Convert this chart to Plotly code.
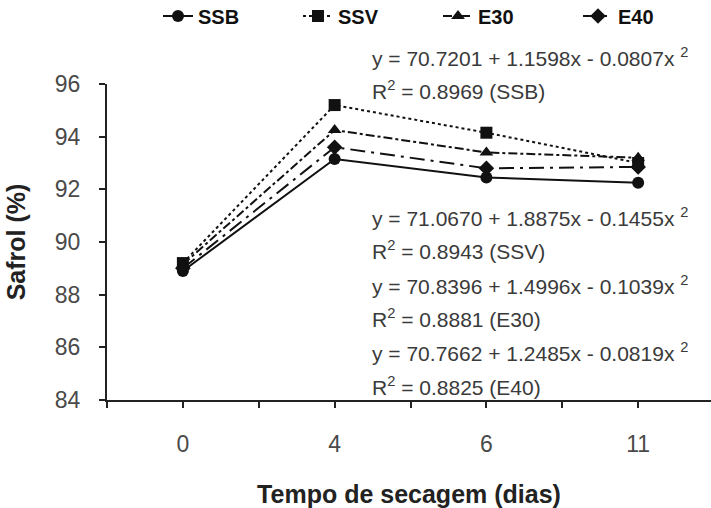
import plotly.graph_objects as go

# Drying time (days) shown as evenly spaced categories
dias = ["0", "4", "6", "11"]
pos = [0, 1, 2, 3]

ssb = [88.9, 93.15, 92.45, 92.25]
ssv = [89.2, 95.2, 94.15, 93.0]
e30 = [89.15, 94.25, 93.4, 93.2]
e40 = [89.0, 93.6, 92.8, 92.85]

series = [
    ("SSB", ssb, "solid", "circle"),
    ("SSV", ssv, "dot", "square"),
    ("E30", e30, "dashdot", "triangle-up"),
    ("E40", e40, "longdashdot", "diamond"),
]

equacoes = [
    ("y = 70.7201 + 1.1598x - 0.0807x <sup>2</sup>", 57),
    ("R<sup>2</sup> = 0.8969 (SSB)", 90),
    ("y = 71.0670 + 1.8875x - 0.1455x <sup>2</sup>", 217),
    ("R<sup>2</sup> = 0.8943 (SSV)", 250),
    ("y = 70.8396 + 1.4996x - 0.1039x <sup>2</sup>", 285),
    ("R<sup>2</sup> = 0.8881 (E30)", 318),
    ("y = 70.7662 + 1.2485x - 0.0819x <sup>2</sup>", 352),
    ("R<sup>2</sup> = 0.8825 (E40)", 386),
]

FONT = "Liberation Sans, Arial"
L, R, T, B = 107, 711, 84, 400

fig = go.Figure()
for nome, vals, dash, simb in series:
    fig.add_trace(go.Scatter(
        x=pos, y=vals, name=nome, mode="lines+markers",
        line=dict(color="#111111", width=2, dash=dash),
        marker=dict(symbol=simb, size=12, color="#111111"),
    ))

for texto, ypix in equacoes:
    fig.add_annotation(
        text=texto, xref="paper", yref="paper",
        x=(370 - L) / (R - L), y=1 - (ypix - T) / (B - T),
        xanchor="left", yanchor="middle", showarrow=False,
        font=dict(family=FONT, size=21, color="#3a3a3a"),
    )

fig.update_layout(
    width=711, height=508,
    margin=dict(l=L, r=711 - R, t=T, b=508 - B, autoexpand=False),
    paper_bgcolor="white", plot_bgcolor="white",
    font=dict(family=FONT, color="#333333"),
    showlegend=True,
    legend=dict(
        orientation="h", x=(158 - L) / (R - L), y=1 + (T - 16) / (B - T),
        xanchor="left", yanchor="middle",
        font=dict(size=20, color="#111111", family=FONT, weight="bold"),
        entrywidth=95, entrywidthmode="pixels",
    ),
    xaxis=dict(
        range=[-0.5, 3.48],
        tickvals=[-0.5, 0, 0.5, 1, 1.5, 2, 2.5, 3, 3.5],
        ticktext=["", dias[0], "", dias[1], "", dias[2], "", dias[3], ""],
        ticks="outside", ticklen=6, tickwidth=2, tickcolor="#222222",
        showline=True, linecolor="#222222", linewidth=2,
        showgrid=False, zeroline=False, ticklabelstandoff=16,
        tickfont=dict(size=23, color="#4a4a4a"),
        title=dict(text="<b>Tempo de secagem (dias)</b>",
                   font=dict(size=25, color="#222222"), standoff=38),
    ),
    yaxis=dict(
        range=[84, 96], dtick=2, tick0=84,
        ticks="outside", ticklen=6, tickwidth=2, tickcolor="#222222",
        showline=True, linecolor="#222222", linewidth=2,
        showgrid=False, zeroline=False, ticklabelstandoff=14,
        tickfont=dict(size=23, color="#4a4a4a"),
        title=dict(text="<b>Safrol (%)</b>",
                   font=dict(size=25, color="#222222"), standoff=22),
    ),
)

fig.write_html("out.html")
